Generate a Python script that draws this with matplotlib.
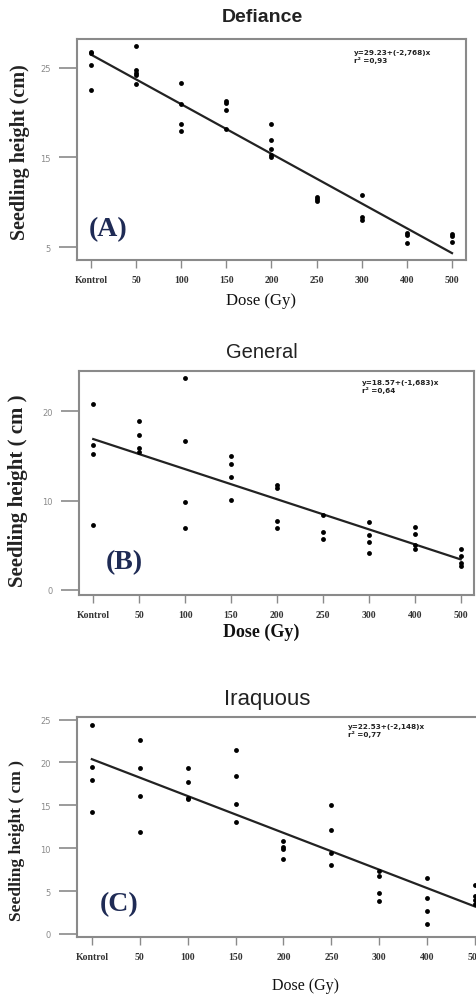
import numpy as np
import matplotlib.pyplot as plt

# dose categories (x axis)
doses = ['Kontrol', '50', '100', '150', '200', '250', '300', '400', '500']

# seedling heights read per dose, one list per dose
defiance = [
    [26.8, 26.6, 25.3, 22.5],
    [27.4, 24.7, 24.4, 24.2, 23.2],
    [23.3, 20.9, 18.7, 17.9],
    [21.3, 21.1, 20.3, 18.2],
    [18.7, 16.9, 15.9, 15.3, 15.0],
    [10.6, 10.3, 10.1],
    [10.8, 8.3, 8.0],
    [6.6, 6.3, 5.4],
    [6.4, 6.2, 5.6],
]
general = [
    [20.8, 16.2, 15.2, 7.3],
    [18.9, 17.3, 15.9, 15.4],
    [23.7, 16.7, 9.8, 6.9],
    [15.0, 14.1, 12.6, 10.1],
    [11.8, 11.4, 7.7, 6.9],
    [8.4, 6.5, 5.7],
    [7.6, 6.2, 5.4, 4.1],
    [7.0, 6.3, 5.0, 4.6],
    [4.6, 3.8, 3.0, 2.7],
]
iraquous = [
    [24.4, 19.5, 18.0, 14.2],
    [22.6, 19.4, 16.1, 11.9],
    [19.4, 17.7, 15.9, 15.7],
    [21.5, 18.4, 15.2, 13.1],
    [10.9, 10.1, 9.9, 8.7],
    [15.0, 12.1, 9.4, 8.1],
    [7.3, 6.8, 4.8, 3.8],
    [6.5, 4.2, 2.7, 1.2],
    [5.7, 4.4, 4.0, 3.5],
]

# regression coefficients (intercept, slope) as printed on the charts
fit_a = (29.23, -2.768)
fit_b = (18.57, -1.683)
fit_c = (22.53, -2.148)
eq_a = 'y=29.23+(-2,768)x\nr² =0,93'
eq_b = 'y=18.57+(-1,683)x\nr² =0,64'
eq_c = 'y=22.53+(-2,148)x\nr² =0,77'

W, H = 477, 995
fig = plt.figure(figsize=(W / 100, H / 100), dpi=100)

SERIF = ['Liberation Serif', 'DejaVu Serif']
SANS = ['Liberation Sans', 'DejaVu Sans']
GRAY = '#8a8a8a'


def box(x0, y0, x1, y1):
    # pixel box (top-left origin) -> figure fraction rect
    return [x0 / W, 1 - y1 / H, (x1 - x0) / W, (y1 - y0) / H]


def panel(rect, data, fit, eq, eq_pos, ylim, xlim, yticks, letter, letter_pos):
    ax = fig.add_axes(rect)
    for i, vals in enumerate(data):
        ax.plot([i] * len(vals), vals, 'o', color='black', markersize=3.5,
                markeredgewidth=0, clip_on=False, zorder=3)
    xs = np.arange(len(doses))
    ax.plot(xs, fit[0] + fit[1] * (xs + 1), color='#222222', lw=1.6, zorder=2)

    ax.set_xlim(*xlim)
    ax.set_ylim(*ylim)
    ax.set_xticks(xs)
    ax.set_xticklabels(doses, family=SERIF, fontweight='bold', fontsize=7,
                       color='#333333')
    ax.set_yticks(yticks)
    ax.set_yticklabels([str(t) for t in yticks], fontsize=6, color=GRAY)
    ax.tick_params(axis='x', direction='out', length=6, width=1, color=GRAY, pad=5)
    ax.tick_params(axis='y', direction='out', length=13, width=1.2, color=GRAY, pad=6)
    for s in ax.spines.values():
        s.set_color(GRAY)
        s.set_linewidth(1.5)

    ax.text(eq_pos[0], eq_pos[1], eq, transform=ax.transAxes, fontsize=5.2,
            fontweight='bold', va='top', ha='left', color='#222222', linespacing=1.2)
    ax.text(letter_pos[0], letter_pos[1], letter, transform=ax.transAxes,
            family=SERIF, fontweight='bold', fontsize=20, color='#1f2b55',
            va='center', ha='left')
    return ax


# (A) Defiance
panel(box(77, 40, 466, 261), defiance, fit_a, eq_a, (0.712, 0.955),
      (3.55, 28.2), (-0.31, 8.31), [5, 15, 25], '(A)', (0.03, 0.14))
fig.text(262 / W, 1 - 18 / H, 'Defiance', family=SANS, fontweight='bold',
         fontsize=14, ha='center', va='center', color='#222222')
fig.text(20 / W, 1 - 152 / H, 'Seedling height (cm)', family=SERIF, fontweight='bold',
         fontsize=14.5, rotation=90, ha='center', va='center', color='#222222')
fig.text(261 / W, 1 - 301 / H, 'Dose (Gy)', family=SERIF, fontsize=12,
         ha='center', va='center', color='#111111')

# (B) General
panel(box(79, 372, 474, 596), general, fit_b, eq_b, (0.716, 0.965),
      (-0.56, 24.5), (-0.31, 8.29), [0, 10, 20], '(B)', (0.068, 0.147))
fig.text(262 / W, 1 - 353 / H, 'General', family=SANS, fontsize=14.5,
         ha='center', va='center', color='#222222')
fig.text(18 / W, 1 - 491 / H, 'Seedling height ( cm )', family=SERIF, fontweight='bold',
         fontsize=15, rotation=90, ha='center', va='center', color='#222222')
fig.text(261 / W, 1 - 632 / H, 'Dose (Gy)', family=SERIF, fontweight='bold', fontsize=13,
         ha='center', va='center', color='#111111')

# (C) Iraquous - box runs past the right edge of the picture
panel(box(77, 718, 490, 938), iraquous, fit_c, eq_c, (0.656, 0.975),
      (-0.35, 25.3), (-0.31, 8.31), [0, 5, 10, 15, 20, 25], '(C)', (0.055, 0.15))
fig.text(267 / W, 1 - 699 / H, 'Iraquous', family=SANS, fontsize=16,
         ha='center', va='center', color='#222222')
fig.text(17 / W, 1 - 841 / H, 'Seedling height ( cm )', family=SERIF, fontweight='bold',
         fontsize=12.5, rotation=90, ha='center', va='center', color='#222222')
fig.text(305 / W, 1 - 986 / H, 'Dose (Gy)', family=SERIF, fontsize=11.5,
         ha='center', va='center', color='#111111')

fig.savefig('out.png', dpi=100)
